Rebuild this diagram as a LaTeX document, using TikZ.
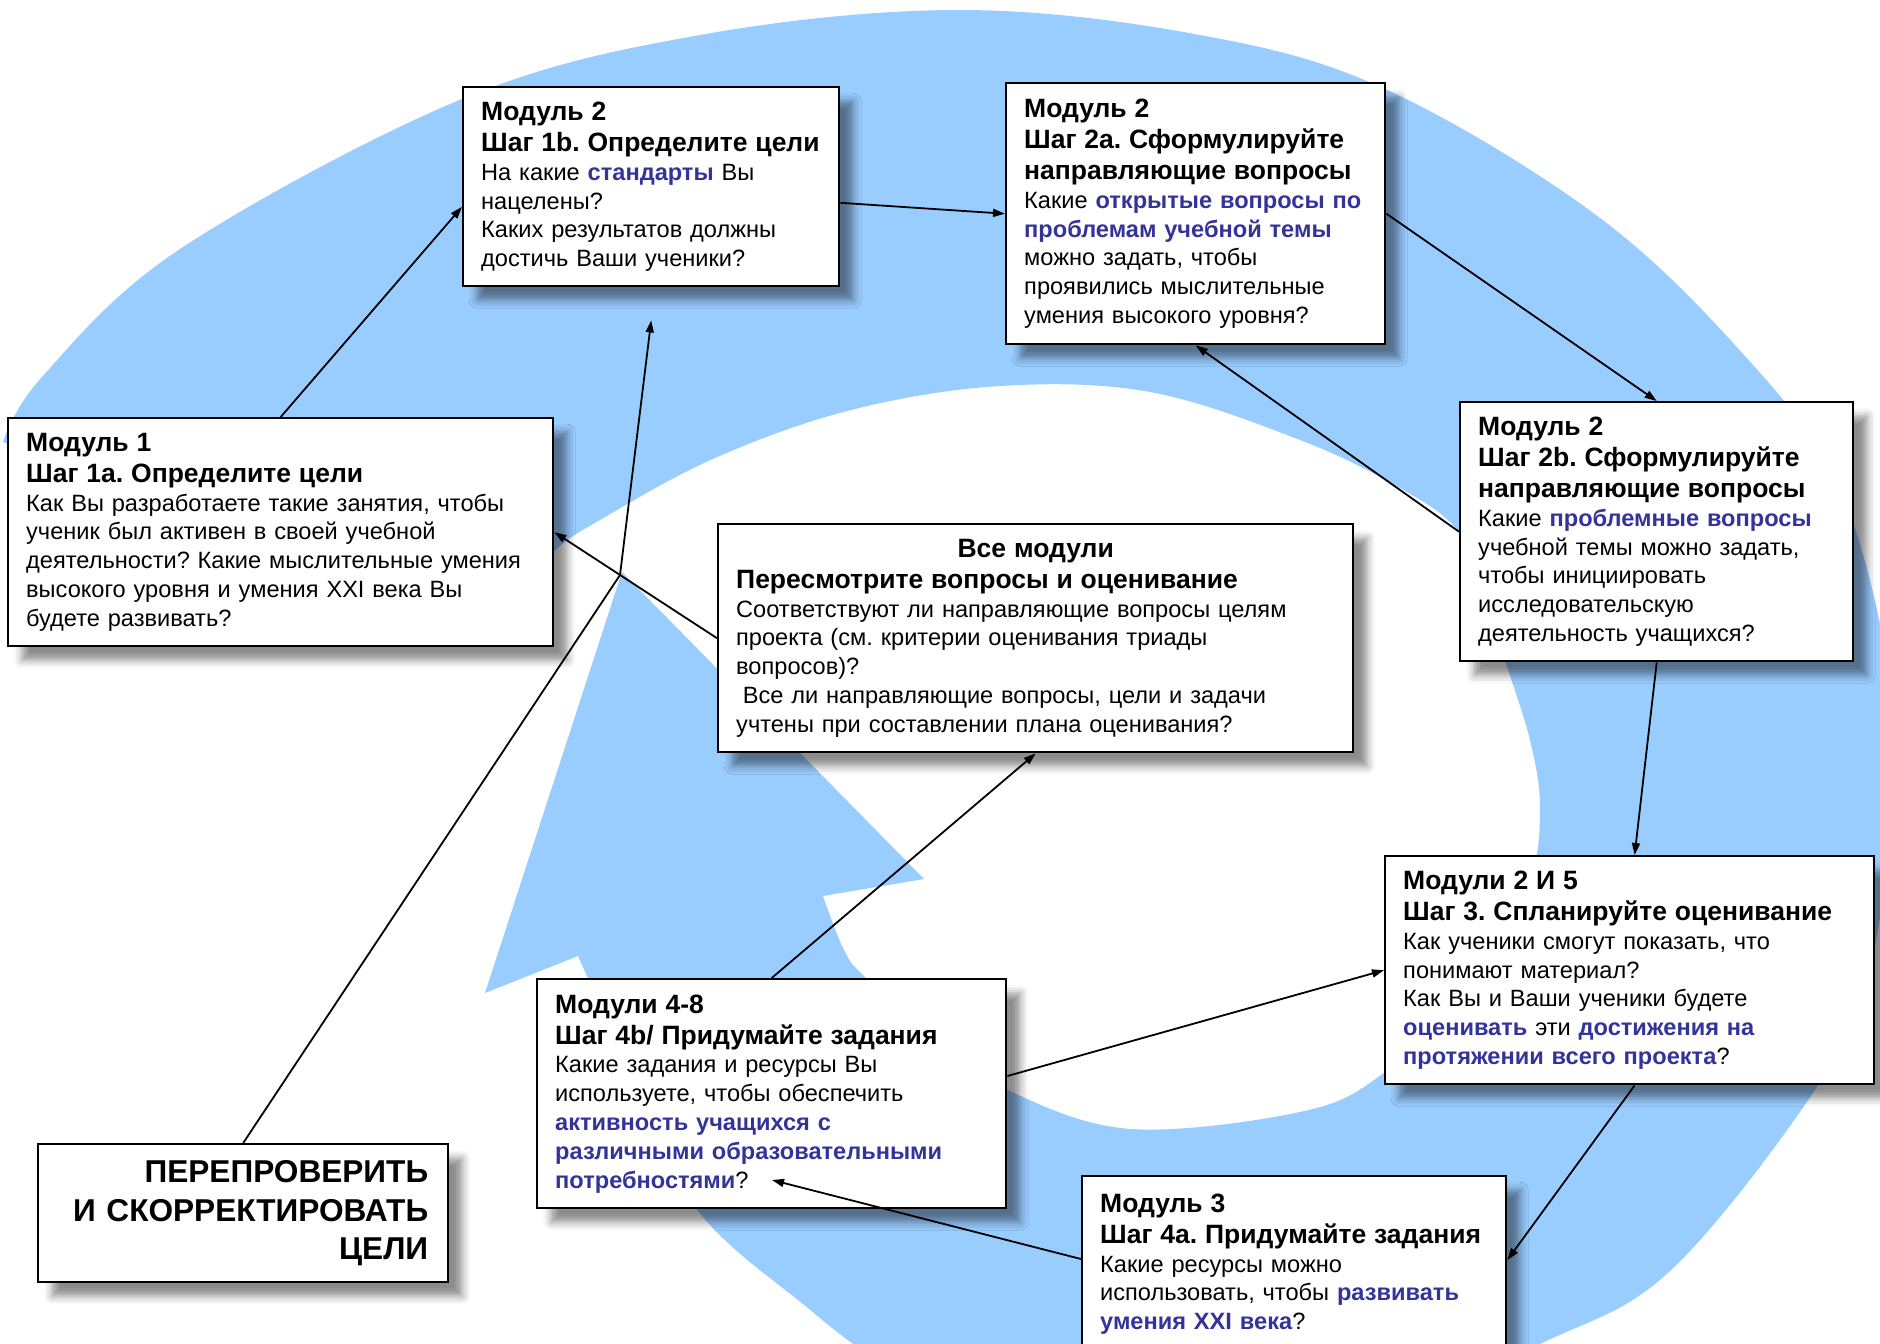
\documentclass[tikz,border=0pt]{standalone}
\usepackage{fontspec}
\setmainfont{Liberation Sans}
\usetikzlibrary{calc,arrows.meta,shadows.blur}
\definecolor{spiralblue}{HTML}{99CCFF}
\definecolor{keyblue}{HTML}{333399}
\newcommand{\modtitle}{\fontsize{13.25pt}{15.5pt}\selectfont\bfseries}
\newcommand{\keyw}[1]{\textcolor{keyblue}{\textbf{#1}}}
\frenchspacing
\begin{document}
\begin{tikzpicture}[x=0.5pt, y=-0.5pt, line width=0.9pt, >={Triangle[length=6pt,width=4pt]},
  font=\fontsize{11.8pt}{14.4pt}\selectfont,
  box node/.style={draw, line width=1.2pt, fill=white, anchor=north west, align=left,
    inner xsep=9pt, inner ysep=7pt,
    blur shadow={shadow xshift=7pt, shadow yshift=-7pt, shadow blur radius=4pt, shadow opacity=45}}]%
\useasboundingbox (0,0) rectangle (1880,1344);
\clip (0,0) rectangle (1880,1344);
% spiral arrow behind the boxes
\fill[spiralblue] (480,625) -- plot[smooth, tension=0.6] coordinates {(3,442) (42,377) (180,249) (462,99) (700,35) (960,10) (1200,35) (1385,89) (1596,215) (1744,355) (1836,481) (1885,650) (1893,800) (1868,975) (1815,1090) (1670,1271) (1540,1344) (1350,1425) (1100,1440) (900,1370) (798,1300) (695,1207) (634,1080) (578,956)}
  -- (485,993) -- (622,572) -- (924,879)
  -- plot[smooth, tension=0.6] coordinates {(823,896) (844,950) (866,978) (940,1042) (1012,1092) (1131,1129) (1300,1112) (1381,1075) (1470,990) (1528,885) (1540,810) (1530,740) (1505,660) (1488,600) (1459,532) (1400,488) (1300,440) (1150,392) (1000,386) (851,410) (715,458) (600,520) (552,553) (480,625)} -- cycle;
\begin{scope}
\node[box node, text width=170pt, minimum height=99.5pt] (m1b) at (462,86) {{\modtitle Модуль 2\\ \mbox{Шаг 1b. Определите цели}\par}На какие \keyw{стандарты} Вы\\ нацелены?\\ Каких результатов должны\\ достичь Ваши ученики?};
\node[box node, text width=171.5pt, minimum height=130.5pt] (m2a) at (1005,82) {{\modtitle Модуль 2\\ Шаг 2a. Сформулируйте\\ направляющие вопросы\par}Какие \keyw{открытые вопросы по}\\ \keyw{проблемам учебной темы}\\ можно задать, чтобы\\ проявились мыслительные\\ умения высокого уровня?};
\node[box node, text width=254.5pt, minimum height=114pt] (m1a) at (7,417) {{\modtitle Модуль 1\\ Шаг 1a. Определите цели\par}Как Вы разработаете такие занятия, чтобы\\ ученик был активен в своей учебной\\ деятельности? Какие мыслительные умения\\ высокого уровня и умения XXI века Вы\\ будете развивать?};
\node[box node, text width=178.5pt, minimum height=129.5pt] (m2b) at (1459,401) {{\modtitle Модуль 2\\ Шаг 2b. Сформулируйте\\ направляющие вопросы\par}Какие \keyw{проблемные вопросы}\\ учебной темы можно задать,\\ чтобы инициировать\\ исследовательскую\\ деятельность учащихся?};
\node[box node, text width=299.5pt, minimum height=114pt] (all) at (717,523) {{\modtitle\centering Все модули\par}{\modtitle Пересмотрите вопросы и оценивание\par}Соответствуют ли направляющие вопросы целям\\ проекта (см. критерии оценивания триады\\ вопросов)?\\ \hspace*{0.28em}Все ли направляющие вопросы, цели и задачи\\ учтены при составлении плана оценивания?};
\node[box node, text width=226.5pt, minimum height=114pt] (m25) at (1384,855) {{\modtitle Модули 2 И 5\\ \mbox{Шаг 3. Спланируйте оценивание}\par}Как ученики смогут показать, что\\ понимают материал?\\ Как Вы и Ваши ученики будете\\ \keyw{оценивать} эти \keyw{достижения на}\\ \keyw{протяжении всего проекта}?};
\node[box node, text width=216.5pt, minimum height=114.5pt] (m48) at (536,978) {{\modtitle Модули 4-8\\ \mbox{Шаг 4b/ Придумайте задания}\par}Какие задания и ресурсы Вы\\ используете, чтобы обеспечить\\ \keyw{активность учащихся с}\\ \keyw{различными образовательными}\\ \keyw{потребностями}?};
\node[box node, text width=194pt, minimum height=88pt] (m3) at (1081,1175) {{\modtitle Модуль 3\\ \mbox{Шаг 4a. Придумайте задания}\par}Какие ресурсы можно\\ использовать, чтобы \keyw{развивать}\\ \keyw{умения XXI века}?};
\node[box node, align=right, inner xsep=10pt, text width=185pt, minimum height=69pt, font=\fontsize{15.8pt}{19.3pt}\selectfont\bfseries] (chk) at (37,1143) {ПЕРЕПРОВЕРИТЬ\\ И СКОРРЕКТИРОВАТЬ\\ ЦЕЛИ};
%\node[box node] (m) at (,) {};
\end{scope}
\coordinate (bend) at (620,575);
\coordinate (goal) at ($(m1b.south)+(0,33)$);
\coordinate (need) at ($(m48.north west)+(236,202)$);
\begin{scope}[every edge/.append style={->}]
\draw (m1a.north) edge ($(m1b.north west)!0.6!(m1b.south west)$);
\draw ($(m1b.north east)!0.58!(m1b.south east)$) edge (m2a.west);
\draw (m2a.east) edge (m2b.north);
\draw (m2b.south) edge ($(m25.north west)!0.51!(m25.north east)$);
\draw ($(m25.south west)!0.51!(m25.south east)$) edge ($(m3.north east)+(0,85)$);
\draw ($(m3.north west)+(0,84)$) edge (need);
\draw ($(m48.north east)+(0,98)$) edge (m25.west);
\draw (m48.north) edge (all.south);
\draw (all.west) edge (m1a.east);
\draw (m2b.west) edge (m2a.south);
\draw[->] (chk.north) -- (bend) -- (goal);
%\draw (m) edge (m);
\end{scope}
\end{tikzpicture}
\end{document}
